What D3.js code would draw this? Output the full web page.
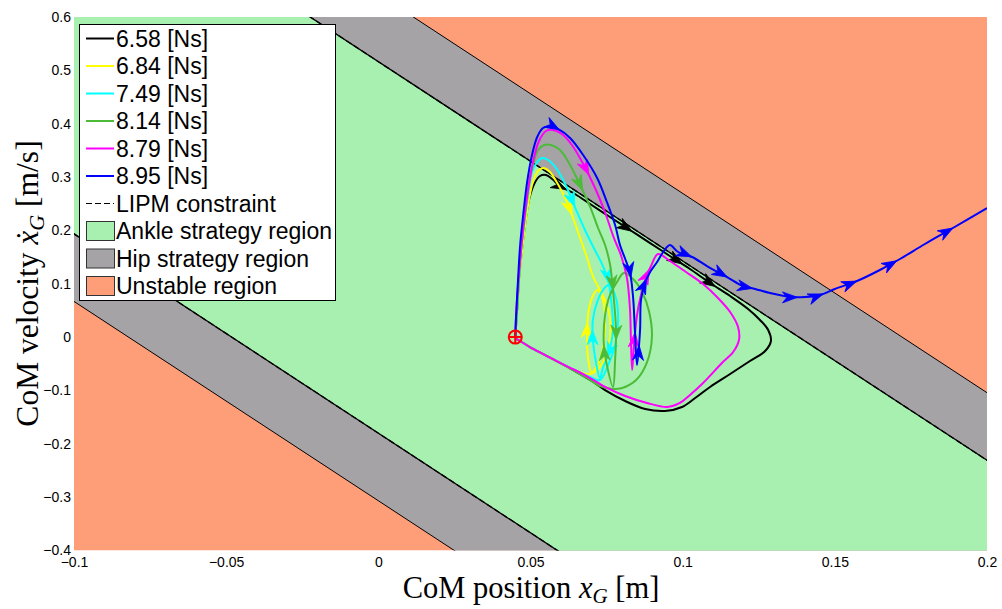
<!DOCTYPE html>
<html>
<head>
<meta charset="utf-8">
<script src="https://cdn.jsdelivr.net/npm/d3@7"></script>
<style>
  body { margin: 0; background: #fff; }
  svg text { font-family: "Liberation Sans", Arial, sans-serif; fill: #000; }
  .serif { font-family: "Liberation Serif", "DejaVu Serif", serif; }
</style>
</head>
<body>
<svg id="chart" width="1002" height="609"></svg>
<script>
// ---- axes ----
const xDomain = [-0.1, 0.2];
const yDomain = [-0.4, 0.6];
const xTicks = [-0.1, -0.05, 0, 0.05, 0.1, 0.15, 0.2];
const yTicks = [-0.4, -0.3, -0.2, -0.1, 0, 0.1, 0.2, 0.3, 0.4, 0.5, 0.6];

// ---- stability regions: bands of constant x + xdot/omega ----
const omega = 3.736;            // LIPM natural frequency [1/s]
const captureCentre = 0.045;    // centre of the support [m]
const ankleHalfWidth = 0.0932;  // ankle strategy band half-width [m]
const hipHalfWidth = 0.1271;    // hip strategy band half-width [m]

// ---- impulse series ----
const impulseLabels = ["6.58 [Ns]", "6.84 [Ns]", "7.49 [Ns]", "8.14 [Ns]", "8.79 [Ns]", "8.95 [Ns]"];
const seriesColors = ["#000000", "#ffff00", "#00ffff", "#4cbb38", "#ff00ff", "#0000ff"];
const regionLabels = ["Ankle strategy region", "Hip strategy region", "Unstable region"];
const regionColors = ["#a8f0b0", "#a5a3a6", "#fe9e79"];

// CoM phase trajectories [x_G, xdot_G]
const traj658 = [
  [0.0450,0.0000],[0.0456,0.0508],[0.0462,0.1070],[0.0472,0.1633],[0.0482,0.2101],[0.0495,0.2570],
  [0.0512,0.2870],[0.0531,0.3020],[0.0551,0.3039],[0.0571,0.2964],[0.0597,0.2832],[0.0646,0.2682],
  [0.0696,0.2495],[0.0761,0.2251],[0.0827,0.2007],[0.0893,0.1763],[0.0958,0.1520],[0.1024,0.1276],
  [0.1090,0.1014],[0.1156,0.0770],[0.1215,0.0527],[0.1254,0.0321],[0.1281,0.0133],[0.1290,-0.0073],
  [0.1271,-0.0261],[0.1221,-0.0448],[0.1156,-0.0692],[0.1090,-0.0935],[0.1041,-0.1142],[0.0998,-0.1310],
  [0.0942,-0.1385],[0.0877,-0.1348],[0.0811,-0.1198],[0.0745,-0.0992],[0.0696,-0.0804],[0.0646,-0.0636],
  [0.0597,-0.0485],[0.0548,-0.0336],[0.0498,-0.0186],[0.0466,-0.0073],[0.0449,-0.0017]
];
const traj684 = [
  [0.0450,0.0000],[0.0456,0.0508],[0.0462,0.1033],[0.0472,0.1595],[0.0482,0.2082],[0.0495,0.2570],
  [0.0508,0.2907],[0.0525,0.3113],[0.0541,0.3170],[0.0561,0.3113],[0.0584,0.2926],[0.0614,0.2607],
  [0.0640,0.2232],[0.0663,0.1857],[0.0686,0.1482],[0.0705,0.1145],[0.0728,0.0882],[0.0748,0.0657],
  [0.0761,0.0358],[0.0761,-0.0017],[0.0748,-0.0354],[0.0725,-0.0579],[0.0702,-0.0673],[0.0689,-0.0392],
  [0.0686,0.0039],[0.0689,0.0414],[0.0702,0.0733],[0.0719,0.0882],[0.0738,0.0695],[0.0745,0.0283],
  [0.0738,-0.0204],[0.0719,-0.0542],[0.0696,-0.0692],[0.0646,-0.0617],[0.0597,-0.0485],[0.0548,-0.0336],
  [0.0498,-0.0186],[0.0466,-0.0073],[0.0449,-0.0017]
];
const traj749 = [
  [0.0450,0.0000],[0.0456,0.0508],[0.0462,0.1070],[0.0469,0.1595],[0.0479,0.2101],[0.0492,0.2664],
  [0.0505,0.3095],[0.0522,0.3282],[0.0538,0.3357],[0.0558,0.3320],[0.0584,0.3170],[0.0617,0.2832],
  [0.0650,0.2382],[0.0679,0.2007],[0.0708,0.1670],[0.0735,0.1370],[0.0755,0.1070],[0.0765,0.0695],
  [0.0771,0.0133],[0.0758,-0.0279],[0.0738,-0.0579],[0.0728,-0.0767],[0.0715,-0.0467],[0.0705,-0.0054],
  [0.0705,0.0321],[0.0719,0.0658],[0.0738,0.0882],[0.0758,0.0976],[0.0778,0.0789],[0.0788,0.0321],
  [0.0778,-0.0148],[0.0755,-0.0523],[0.0728,-0.0804],[0.0696,-0.0748],[0.0646,-0.0617],[0.0597,-0.0485],
  [0.0548,-0.0336],[0.0498,-0.0186],[0.0466,-0.0073],[0.0449,-0.0017]
];
const traj814 = [
  [0.0450,0.0000],[0.0456,0.0508],[0.0462,0.1070],[0.0469,0.1633],[0.0479,0.2157],[0.0492,0.2757],
  [0.0508,0.3226],[0.0525,0.3507],[0.0545,0.3601],[0.0567,0.3601],[0.0597,0.3507],[0.0630,0.3226],
  [0.0663,0.2851],[0.0696,0.2439],[0.0722,0.2045],[0.0745,0.1726],[0.0761,0.1370],[0.0771,0.0882],
  [0.0781,0.0133],[0.0778,-0.0429],[0.0771,-0.0935],[0.0751,-0.0523],[0.0741,-0.0148],[0.0745,0.0414],
  [0.0761,0.0789],[0.0784,0.1033],[0.0807,0.1201],[0.0837,0.1089],[0.0867,0.0845],[0.0890,0.0470],
  [0.0899,0.0002],[0.0883,-0.0467],[0.0847,-0.0804],[0.0801,-0.0954],[0.0771,-0.0973],[0.0728,-0.0917],
  [0.0696,-0.0804],[0.0646,-0.0636],[0.0597,-0.0485],[0.0548,-0.0336],[0.0498,-0.0186],[0.0466,-0.0073],
  [0.0449,-0.0017]
];
const traj879 = [
  [0.0450,0.0000],[0.0452,0.0321],[0.0459,0.0977],[0.0469,0.1633],[0.0479,0.2195],[0.0492,0.2757],
  [0.0508,0.3282],[0.0528,0.3676],[0.0551,0.3863],[0.0574,0.3882],[0.0603,0.3807],[0.0636,0.3601],
  [0.0675,0.3226],[0.0715,0.2757],[0.0748,0.2289],[0.0774,0.1858],[0.0797,0.1539],[0.0817,0.1108],
  [0.0827,0.0508],[0.0830,-0.0054],[0.0834,-0.0617],[0.0840,-0.0148],[0.0850,0.0414],[0.0863,0.0789],
  [0.0880,0.1127],[0.0896,0.1333],[0.0919,0.1558],[0.0958,0.1426],[0.1011,0.1220],[0.1067,0.0995],
  [0.1116,0.0733],[0.1156,0.0470],[0.1182,0.0189],[0.1185,-0.0054],[0.1166,-0.0279],[0.1129,-0.0485],
  [0.1067,-0.0860],[0.1024,-0.1085],[0.0991,-0.1235],[0.0949,-0.1310],[0.0883,-0.1235],[0.0811,-0.1104],
  [0.0745,-0.0935],[0.0696,-0.0767],[0.0646,-0.0617],[0.0597,-0.0485],[0.0548,-0.0336],[0.0498,-0.0186],
  [0.0466,-0.0073],[0.0449,-0.0017]
];
const traj895 = [
  [0.0450,0.0000],[0.0452,0.0321],[0.0459,0.1070],[0.0466,0.1726],[0.0476,0.2289],[0.0489,0.2907],
  [0.0505,0.3413],[0.0522,0.3751],[0.0541,0.3919],[0.0564,0.3948],[0.0590,0.3901],[0.0630,0.3732],
  [0.0673,0.3413],[0.0719,0.2982],[0.0751,0.2532],[0.0778,0.2101],[0.0794,0.1726],[0.0810,0.1482],
  [0.0827,0.1201],[0.0837,0.0752],[0.0843,0.0133],[0.0850,-0.0523],[0.0860,0.0133],[0.0863,0.0695],
  [0.0876,0.1014],[0.0893,0.1220],[0.0916,0.1408],[0.0936,0.1595],[0.0958,0.1726],[0.0985,0.1595],
  [0.1031,0.1501],[0.1080,0.1332],[0.1146,0.1126],[0.1198,0.0958],[0.1238,0.0902],[0.1287,0.0827],
  [0.1353,0.0752],[0.1402,0.0752],[0.1451,0.0789],[0.1500,0.0902],[0.1573,0.1052],[0.1648,0.1258],
  [0.1714,0.1464],[0.1796,0.1745],[0.1888,0.2045],[0.2000,0.2420]
];
const trajectories = [traj658, traj684, traj749, traj814, traj879, traj895];

// direction markers placed along each trajectory
const arrows658 = [[0.0621,0.2813],[0.0834,0.1989],[0.1001,0.1389],[0.1110,0.0958]];
const arrows684 = [[0.0630,0.2287],[0.0686,0.0265]];
const arrows749 = [[0.0646,0.2437],[0.0755,0.0995],[0.0705,0.0133],[0.0741,-0.0354]];
const arrows814 = [[0.0663,0.2720],[0.0771,0.0882],[0.0741,-0.0148],[0.0781,-0.0054]];
const arrows879 = [[0.0676,0.3001],[0.0893,0.1258],[0.0847,0.0096]];
const arrows895 = [[0.0597,0.3901],[0.0830,0.1126],[0.0886,0.1070],[0.0857,-0.0148],
  [0.1027,0.1501],[0.1146,0.1126],[0.1231,0.0920],[0.1376,0.0733],[0.1461,0.0827],
  [0.1573,0.1052],[0.1704,0.1445],[0.1888,0.2045]];
const arrowSets = [arrows658, arrows684, arrows749, arrows814, arrows879, arrows895];

const initialState = [0.045, 0.0];

// ---- layout ----
const svg = d3.select("#chart");
const plot = { left: 74, right: 987, top: 17, bottom: 550.5 };
const x = d3.scaleLinear().domain(xDomain).range([plot.left, plot.right]);
const y = d3.scaleLinear().domain(yDomain).range([plot.bottom, plot.top]);
const line = d3.line().x(d => x(d[0])).y(d => y(d[1]));

svg.append("defs").append("clipPath").attr("id", "plotClip")
  .append("rect")
  .attr("x", plot.left).attr("y", plot.top)
  .attr("width", plot.right - plot.left).attr("height", plot.bottom - plot.top);

const gPlot = svg.append("g").attr("clip-path", "url(#plotClip)");

// band polygon between two capture-point offsets
const yHi = yDomain[1] + 1, yLo = yDomain[0] - 1;
function band(cLo, cHi) {
  return [[cLo - yHi / omega, yHi], [cHi - yHi / omega, yHi], [cHi - yLo / omega, yLo], [cLo - yLo / omega, yLo]];
}
function edge(c) { return [[c - yHi / omega, yHi], [c - yLo / omega, yLo]]; }

// unstable background
gPlot.append("rect")
  .attr("x", x(xDomain[0])).attr("y", y(yDomain[1]))
  .attr("width", x(xDomain[1]) - x(xDomain[0])).attr("height", y(yDomain[0]) - y(yDomain[1]))
  .attr("fill", regionColors[2]);
gPlot.append("path")
  .attr("d", line(band(captureCentre - hipHalfWidth, captureCentre + hipHalfWidth)) + "Z")
  .attr("fill", regionColors[1]);
gPlot.append("path")
  .attr("d", line(band(captureCentre - ankleHalfWidth, captureCentre + ankleHalfWidth)) + "Z")
  .attr("fill", regionColors[0]);

[-hipHalfWidth, hipHalfWidth].forEach(h => {
  gPlot.append("path").attr("d", line(edge(captureCentre + h)))
    .attr("stroke", "#000").attr("stroke-width", 1).attr("fill", "none");
});
[-ankleHalfWidth, ankleHalfWidth].forEach(h => {
  gPlot.append("path").attr("d", line(edge(captureCentre + h)))
    .attr("stroke", "#000").attr("stroke-width", 1.3).attr("fill", "none");
  gPlot.append("path").attr("d", line(edge(captureCentre + h)))
    .attr("stroke", "#000").attr("stroke-width", 1.3).attr("stroke-dasharray", "6,3").attr("fill", "none");
});

// trajectories
const smooth = d3.line().x(d => x(d[0])).y(d => y(d[1])).curve(d3.curveCatmullRom.alpha(0.5));
const arrowShape = "M0,0 L-15,-5.5 L-10.5,0 L-15,5.5 Z";

trajectories.forEach((tr, i) => {
  const p = gPlot.append("path")
    .attr("d", smooth(tr))
    .attr("fill", "none")
    .attr("stroke", seriesColors[i])
    .attr("stroke-width", 2)
    .attr("stroke-linejoin", "round");
  const node = p.node();
  const len = node.getTotalLength();
  const samples = [];
  for (let s = 0; s <= len; s += 1) { const pt = node.getPointAtLength(s); samples.push([pt.x, pt.y]); }
  arrowSets[i].forEach(a => {
    const ax = x(a[0]), ay = y(a[1]);
    let best = 0, bd = Infinity;
    samples.forEach((s, k) => { const d = (s[0] - ax) ** 2 + (s[1] - ay) ** 2; if (d < bd) { bd = d; best = k; } });
    const k0 = Math.max(0, best - 3), k1 = Math.min(samples.length - 1, best + 3);
    const ang = Math.atan2(samples[k1][1] - samples[k0][1], samples[k1][0] - samples[k0][0]) * 180 / Math.PI;
    gPlot.append("path")
      .attr("d", arrowShape)
      .attr("transform", `translate(${samples[best][0]},${samples[best][1]}) rotate(${ang})`)
      .attr("fill", seriesColors[i])
      .attr("stroke", seriesColors[i])
      .attr("stroke-width", 0.8)
      .attr("stroke-linejoin", "round");
  });
});

// initial state marker
const cx = x(initialState[0]), cy = y(initialState[1]);
gPlot.append("circle").attr("cx", cx).attr("cy", cy).attr("r", 6.5)
  .attr("fill", "none").attr("stroke", "#ff0000").attr("stroke-width", 2);
gPlot.append("path").attr("d", `M${cx - 6.5},${cy}H${cx + 6.5}M${cx},${cy - 6.5}V${cy + 6.5}`)
  .attr("stroke", "#ff0000").attr("stroke-width", 2);

// axes (labels only)
const fmt = d3.format("");
const xAxis = svg.append("g").attr("transform", `translate(0,${plot.bottom})`)
  .call(d3.axisBottom(x).tickValues(xTicks).tickSize(0).tickPadding(7).tickFormat(fmt));
const yAxis = svg.append("g").attr("transform", `translate(${plot.left},0)`)
  .call(d3.axisLeft(y).tickValues(yTicks).tickSize(0).tickPadding(3).tickFormat(fmt));
[xAxis, yAxis].forEach(g => {
  g.select(".domain").remove();
  g.selectAll("text").attr("font-size", 14).attr("font-family", "Liberation Sans, Arial, sans-serif").attr("fill", "#000");
});

// axis titles
const xt = svg.append("text").attr("class", "serif").attr("x", 531).attr("y", 598)
  .attr("text-anchor", "middle").attr("font-size", 30.5);
xt.append("tspan").text("CoM position ");
xt.append("tspan").attr("font-style", "italic").text("x");
xt.append("tspan").attr("font-style", "italic").attr("font-size", 21).attr("dy", 5).text("G");
xt.append("tspan").attr("dy", -5).text(" [m]");

const yt = svg.append("text").attr("class", "serif")
  .attr("transform", "translate(38,283.5) rotate(-90)")
  .attr("text-anchor", "middle").attr("font-size", 31.5);
yt.append("tspan").text("CoM velocity ");
yt.append("tspan").attr("font-style", "italic").text("\u1E8B");
yt.append("tspan").attr("font-style", "italic").attr("font-size", 22).attr("dy", 6).text("G");
yt.append("tspan").attr("dy", -6).text(" [m/s]");

// legend
const lg = svg.append("g");
lg.append("rect").attr("x", 79.5).attr("y", 24.5).attr("width", 256).attr("height", 276)
  .attr("fill", "#fff").attr("stroke", "#000").attr("stroke-width", 1);
const rowY = i => 38.5 + i * 27.5;
const legendRows = impulseLabels.map((t, i) => ({ kind: "line", label: t, color: seriesColors[i] }))
  .concat([{ kind: "dash", label: "LIPM constraint", color: "#000" }])
  .concat(regionLabels.map((t, i) => ({ kind: "patch", label: t, color: regionColors[i] })));
legendRows.forEach((r, i) => {
  const yy = rowY(i);
  if (r.kind === "patch") {
    lg.append("rect").attr("x", 86.5).attr("y", yy - 9.5).attr("width", 28).attr("height", 19)
      .attr("fill", r.color).attr("stroke", "#333").attr("stroke-width", 1);
  } else {
    lg.append("line").attr("x1", 86).attr("x2", 114).attr("y1", yy).attr("y2", yy)
      .attr("stroke", r.color).attr("stroke-width", r.kind === "dash" ? 1.2 : 2)
      .attr("stroke-dasharray", r.kind === "dash" ? "6,3" : null);
  }
  lg.append("text").attr("x", 116).attr("y", yy).attr("dy", "0.35em")
    .attr("font-size", 23).text(r.label);
});
</script>
</body>
</html>
